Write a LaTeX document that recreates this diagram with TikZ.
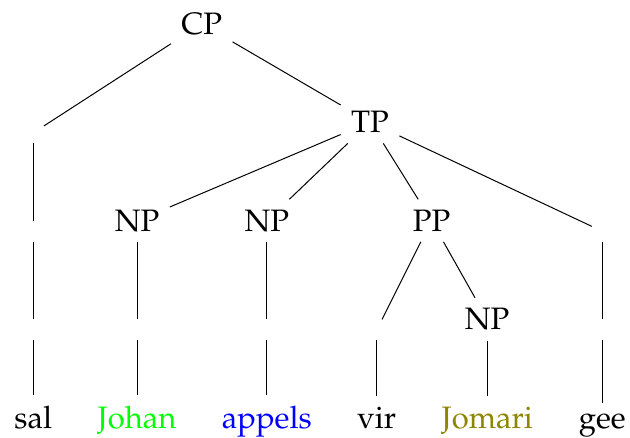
\documentclass[tikz,border=0pt]{standalone}
\usepackage[T1]{fontenc}
\usepackage{mathpazo}
\begin{document}
\begin{tikzpicture}[x=1pt,y=-1pt,
  tn/.style={anchor=base,font=\fontsize{31}{37}\selectfont,inner sep=10.3pt},
  branch/.style={line width=1pt}]
\useasboundingbox (0,0) rectangle (630,438);
% level 1
\node[tn] (CP) at (201.7,34.3) {CP};
% level 2
\node[tn] (e1) at (33.3,132.8) {};
\node[tn] (TP) at (370,132.8) {TP};
% level 3
\node[tn] (e2)  at (33.3,231.3) {};
\node[tn] (NPa) at (137,231.3) {NP};
\node[tn] (NPb) at (266.8,231.3) {NP};
\node[tn] (PP)  at (431.5,231.3) {PP};
\node[tn] (e5)  at (602.3,231.3) {};
% level 4
\node[tn] (e3)  at (33.3,329.8) {};
\node[tn] (eJ)  at (137,329.8) {};
\node[tn] (eA)  at (266.8,329.8) {};
\node[tn] (eV)  at (376.8,329.8) {};
\node[tn] (NPc) at (487.2,329.8) {NP};
\node[tn] (e6)  at (602.3,329.8) {};
% leaves
\node[tn] (sal)    at (33.3,428.3) {sal};
\node[tn,text={rgb,255:red,0;green,255;blue,0}] (Johan) at (137,428.3) {Johan};
\node[tn,text=blue] (appels) at (266.8,428.3) {appels};
\node[tn] (vir)    at (376.8,428.3) {vir};
\node[tn,text=olive] (Jomari) at (487.2,428.3) {Jomari};
\node[tn] (gee)    at (602.3,428.3) {gee};
% branches
\draw[branch] (CP) -- (e1);
\draw[branch] (CP) -- (TP);
\draw[branch] (e1) -- (e2);
\draw[branch] (e2) -- (e3);
\draw[branch] (e3) -- (sal);
\draw[branch] (TP) -- (NPa);
\draw[branch] (TP) -- (NPb);
\draw[branch] (TP) -- (PP);
\draw[branch] (TP) -- (e5);
\draw[branch] (NPa) -- (eJ);
\draw[branch] (eJ) -- (Johan);
\draw[branch] (NPb) -- (eA);
\draw[branch] (eA) -- (appels);
\draw[branch] (PP) -- (eV);
\draw[branch] (PP) -- (NPc);
\draw[branch] (eV) -- (vir);
\draw[branch] (NPc) -- (Jomari);
\draw[branch] (e5) -- (e6);
\draw[branch] (e6) -- (gee);
\end{tikzpicture}
\end{document}
